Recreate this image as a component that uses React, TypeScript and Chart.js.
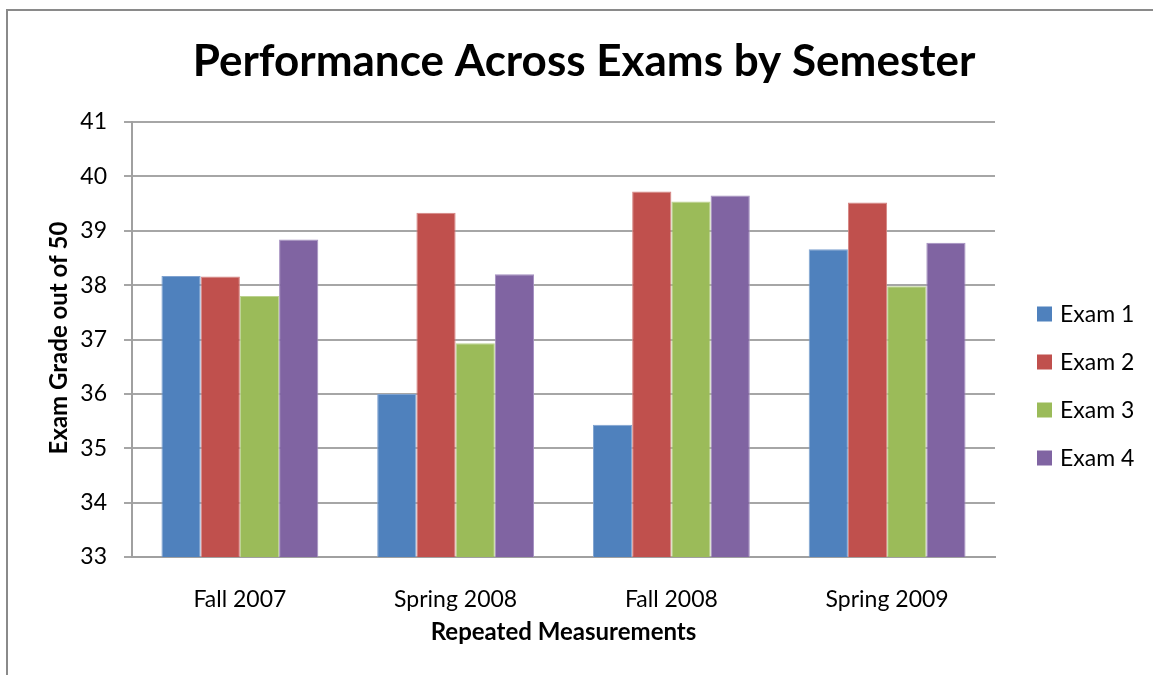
import React, { useEffect, useRef } from "react";
import { Chart, registerables } from "chart.js";

Chart.register(...registerables);

const categories = ["Fall 2007", "Spring 2008", "Fall 2008", "Spring 2009"];
const exam1 = [38.17, 36.0, 35.43, 38.66];
const exam2 = [38.16, 39.33, 39.72, 39.52];
const exam3 = [37.8, 36.93, 39.54, 37.98];
const exam4 = [38.84, 38.2, 39.65, 38.78];
const seriesLabels = ["Exam 1", "Exam 2", "Exam 3", "Exam 4"];
const seriesColors = ["#4F81BD", "#C0504D", "#9BBB59", "#8064A2"];
const seriesBorders = ["#7FA2D0", "#D68482", "#BBD28F", "#A48FC0"];

const titleText = "Performance Across Exams by Semester";
const yTitle = "Exam Grade out of 50";
const xTitle = "Repeated Measurements";
const FONT = "Lato, Calibri, Carlito, sans-serif";

const decorPlugin = {
  id: "decor",
  afterDraw(chart: any) {
    const ctx = chart.ctx;
    const area = chart.chartArea;
    ctx.save();
    // outer frame
    ctx.strokeStyle = "#8a8a8a";
    ctx.lineWidth = 2;
    ctx.strokeRect(7, 10, 1200, 700);
    // title
    ctx.fillStyle = "#000";
    ctx.textAlign = "center";
    ctx.textBaseline = "middle";
    ctx.font = `bold 44px ${FONT}`;
    ctx.fillText(titleText, 584, 62);
    // x title
    ctx.font = `bold 24px ${FONT}`;
    ctx.fillText(xTitle, (area.left + area.right) / 2, 632);
    // y title
    ctx.save();
    ctx.translate(59, 338);
    ctx.rotate(-Math.PI / 2);
    ctx.fillText(yTitle, 0, 0);
    ctx.restore();
    // legend
    ctx.font = `23px ${FONT}`;
    ctx.textAlign = "left";
    chart.data.datasets.forEach((ds: any, i: number) => {
      const cy = 314 + i * 48;
      ctx.fillStyle = ds.backgroundColor;
      ctx.fillRect(1037, cy - 7.5, 15, 15);
      ctx.fillStyle = "#000";
      ctx.fillText(ds.label, 1060, cy + 1);
    });
    ctx.restore();
  },
};

export default function App() {
  const ref = useRef<HTMLCanvasElement>(null);
  useEffect(() => {
    if (!ref.current) return;
    const values = [exam1, exam2, exam3, exam4];
    const chart = new Chart(ref.current, {
      type: "bar",
      data: {
        labels: categories,
        datasets: values.map((v, i) => ({
          label: seriesLabels[i],
          data: v,
          backgroundColor: seriesColors[i],
          borderColor: seriesBorders[i],
          borderWidth: 1,
          borderSkipped: "bottom",
          categoryPercentage: 0.727,
          barPercentage: 1,
        })),
      },
      options: {
        responsive: false,
        animation: false,
        layout: { padding: { left: 0, right: 158, top: 122, bottom: 0 } },
        plugins: {
          legend: { display: false },
          title: { display: false },
          tooltip: { enabled: false },
        },
        scales: {
          x: {
            offset: true,
            grid: { display: false },
            border: { display: true, color: "#a0a0a0", width: 2 },
            ticks: { color: "#000", font: { family: FONT, size: 23 }, padding: 21, maxRotation: 0 },
            afterFit: (s: any) => { s.height = 118; },
          },
          y: {
            min: 33,
            max: 41,
            ticks: { stepSize: 1, color: "#000", font: { family: FONT, size: 23 }, padding: 17 },
            grid: { color: "#a6a6a6", lineWidth: 2, tickLength: 8, drawTicks: true },
            border: { display: true, color: "#a0a0a0", width: 2 },
            afterFit: (s: any) => { s.width = 132; },
          },
        },
      },
      plugins: [decorPlugin],
    });
    return () => chart.destroy();
  }, []);
  return (
    <div style={{ position: "absolute", left: 0, top: 0, width: 1153, height: 675, background: "#fff" }}>
      <canvas ref={ref} width={1153} height={675} style={{ display: "block", width: 1153, height: 675 }} />
    </div>
  );
}
